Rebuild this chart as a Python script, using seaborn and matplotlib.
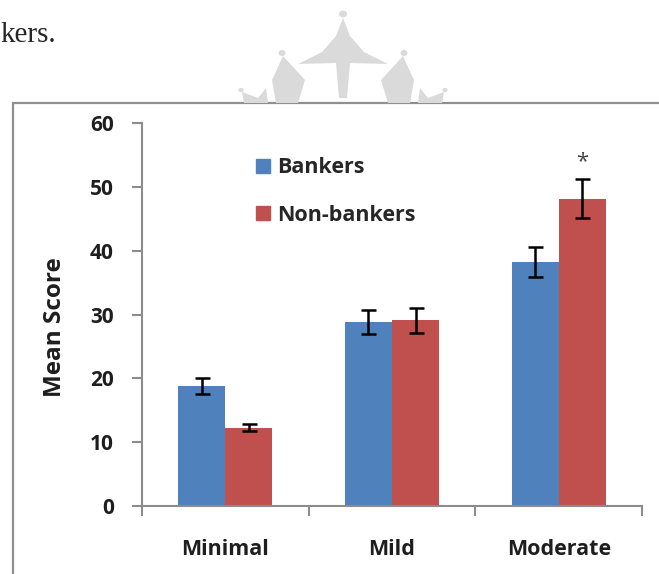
import pandas as pd
import matplotlib
matplotlib.use('Agg')
import matplotlib.pyplot as plt
from matplotlib.lines import Line2D
from matplotlib.patches import Polygon, Circle, Rectangle
import seaborn as sns

# Data
categories = ['Minimal', 'Mild', 'Moderate']
groups = ['Bankers', 'Non-bankers']
bankers = [18.8, 28.8, 38.3]
non_bankers = [12.3, 29.1, 48.2]
bankers_err = [1.3, 1.9, 2.35]
non_bankers_err = [0.5, 1.95, 3.0]
y_ticks = [0, 10, 20, 30, 40, 50, 60]

colors = ['#4F81BD', '#C0504D']
axis_grey = '#8c8c8c'
txt = '#1e1e1e'

# long format table for seaborn
df = pd.DataFrame({
    'Severity': categories * 2,
    'Group': [groups[0]] * 3 + [groups[1]] * 3,
    'Score': bankers + non_bankers,
    'Err': bankers_err + non_bankers_err,
})

sns.set_style('white')
plt.rcParams['font.family'] = ['Open Sans', 'DejaVu Sans']

W, H = 659, 574
fig = plt.figure(figsize=(W / 100, H / 100), dpi=100)
ax = fig.add_axes([141.7 / W, 1 - 506 / H, (642.3 - 141.7) / W, (506 - 123.3) / H])

sns.barplot(data=df, x='Severity', y='Score', hue='Group', order=categories,
            hue_order=groups, palette=colors, errorbar=None, width=0.565,
            gap=0, saturation=1, legend=False, linewidth=0, ax=ax)

# error bars on top of each bar
for cont, g in zip(ax.containers, groups):
    sub = df[df['Group'] == g]
    xs = [p.get_x() + p.get_width() / 2 for p in cont.patches]
    ys = [p.get_height() for p in cont.patches]
    ax.errorbar(xs, ys, yerr=sub['Err'].values, fmt='none', ecolor='black',
                elinewidth=1.8, capsize=5.4, capthick=1.8, zorder=5)

# significance star over moderate non-bankers
star_bar = ax.containers[1].patches[2]
ax.text(star_bar.get_x() + star_bar.get_width() / 2, 53.9, '*', ha='center',
        va='center', fontsize=16, color='#444444')

# axes styling
ax.set_xlim(-0.5, 2.5)
ax.set_ylim(0, 60)
ax.set_yticks(y_ticks)
ax.set_yticklabels([str(v) for v in y_ticks], fontsize=15, fontweight='bold', color=txt)
ax.set_xticks([-0.5, 0.5, 1.5, 2.5])
ax.set_xticklabels([])
ax.set_xticks([0, 1, 2], minor=True)
ax.set_xticklabels(categories, minor=True, fontsize=15.5, fontweight='bold', color=txt)
ax.tick_params(axis='x', which='major', direction='out', length=7.2, width=1.5,
               color=axis_grey, bottom=True)
ax.tick_params(axis='x', which='minor', length=0, pad=24)
ax.tick_params(axis='y', direction='out', length=7.2, width=1.5, color=axis_grey,
               left=True, pad=13)
ax.set_xlabel('')
ax.set_ylabel('Mean Score', fontsize=17.5, fontweight='bold', color=txt)
ax.yaxis.set_label_coords((67 - 141.7) / 500.6, (506 - 327) / 382.7)
for side in ['top', 'right']:
    ax.spines[side].set_visible(False)
for side in ['left', 'bottom']:
    ax.spines[side].set_color(axis_grey)
    ax.spines[side].set_linewidth(1.5)

# legend with square markers
handles = [Line2D([], [], marker='s', linestyle='none', markersize=9.5,
                  markerfacecolor=c, markeredgecolor=c) for c in colors]
ax.legend(handles, groups, loc='center left',
          bbox_to_anchor=((257 - 141.7) / 500.6, (506 - 191.5) / 382.7),
          frameon=False, handlelength=0.6, handletextpad=0.35,
          labelspacing=1.25, borderpad=0, borderaxespad=0,
          prop={'weight': 'bold', 'size': 15.5})

# page decoration: frame, text fragment and faint watermark
def px(x, y):
    return (x / W, 1 - y / H)

fig.patches.append(Rectangle(px(13.3, 620), (W + 20) / W, (620 - 103.3) / H,
                             transform=fig.transFigure, fill=False,
                             edgecolor='#8f8f8f', linewidth=1.6, zorder=0))
fig.text(0, 1 - 42 / H, 'kers.', fontsize=21, family='Liberation Serif', va='baseline')

wm = '#dadada'
crown = [
    [(343, 18), (336, 36), (322, 52), (298, 64), (336, 63), (339, 98), (347, 98),
     (350, 63), (388, 64), (364, 52), (350, 36)],
    [(283, 56), (305, 80), (298, 103), (276, 103), (272, 80)],
    [(403, 56), (381, 80), (388, 103), (410, 103), (414, 80)],
    [(242, 92), (258, 98), (266, 88), (268, 103), (244, 103)],
    [(444, 92), (428, 98), (420, 88), (418, 103), (442, 103)],
]
for pts in crown:
    fig.patches.append(Polygon([px(*p) for p in pts], closed=True,
                               transform=fig.transFigure, facecolor=wm,
                               edgecolor='none', zorder=0))
for cx, cy, r in [(343, 14, 4), (282, 53, 3.5), (404, 53, 3.5), (241, 90, 2.5), (445, 90, 2.5)]:
    fig.patches.append(Circle(px(cx, cy), r / W, transform=fig.transFigure,
                              facecolor=wm, edgecolor='none', zorder=0))

fig.savefig('out.png', dpi=100)
